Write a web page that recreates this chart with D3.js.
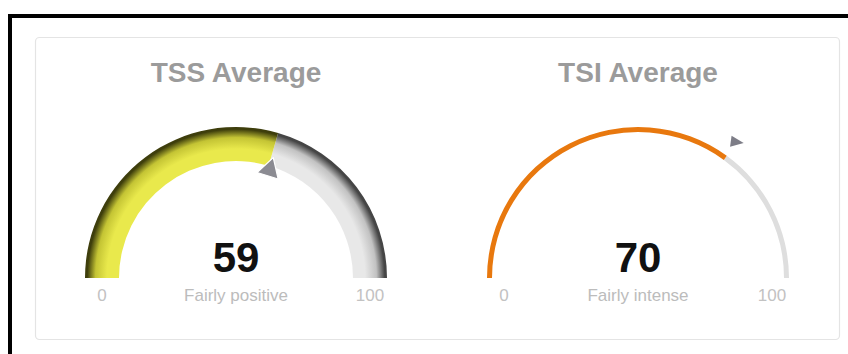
<!DOCTYPE html>
<html>
<head>
<meta charset="utf-8">
<script src="https://cdn.jsdelivr.net/npm/d3@7"></script>
<style>
  html, body { margin: 0; padding: 0; background: #fff; }
  svg { display: block; font-family: "Liberation Sans", Arial, Helvetica, sans-serif; }
</style>
</head>
<body>
<svg id="chart" width="848" height="354"></svg>
<script>
// Gauge content
const titles = ["TSS Average", "TSI Average"];
const values = [59, 70];
const moods = ["Fairly positive", "Fairly intense"];
const scaleMin = 0;
const scaleMax = 100;
const minLabels = ["0", "0"];
const maxLabels = ["100", "100"];

const svg = d3.select("#chart");
const defs = svg.append("defs");

// Outer frame (runs off the right and bottom edges)
svg.append("rect")
  .attr("x", 10).attr("y", 16)
  .attr("width", 900).attr("height", 400)
  .attr("fill", "none").attr("stroke", "#000").attr("stroke-width", 4);

// Card
const card = { x: 35.5, y: 37.5, w: 804, h: 302 };
svg.append("rect")
  .attr("x", card.x).attr("y", card.y)
  .attr("width", card.w).attr("height", card.h)
  .attr("rx", 4)
  .attr("fill", "#fff").attr("stroke", "#e4e4e4").attr("stroke-width", 1.2);

// value -> angle (radians, 0 = straight up)
const angle = d3.scaleLinear().domain([scaleMin, scaleMax]).range([-Math.PI / 2, Math.PI / 2]);

const centers = [236, 638];
const cy = 278;

// Per-gauge look
const looks = [
  { outer: 151, inner: 117, style: "bevel" },
  { outer: 151, inner: 146, style: "flat" }
];

// Radial shading for the bevelled band, in the gauge group's own coordinates
function bevelGradient(id, r, inner, light, dark, rim) {
  const g = defs.append("radialGradient")
    .attr("id", id)
    .attr("gradientUnits", "userSpaceOnUse")
    .attr("cx", 0).attr("cy", 0).attr("r", r);
  const f = inner / r;
  [[0, light], [f, inner === 0 ? light : light], [f + 0.08, light], [0.93, dark], [0.985, rim], [1, rim]]
    .forEach(([o, c]) => g.append("stop").attr("offset", o).attr("stop-color", c));
  return `url(#${id})`;
}

titles.forEach((title, i) => {
  const cx = centers[i];
  const look = looks[i];
  const g = svg.append("g").attr("transform", `translate(${cx},${cy})`);
  const v = values[i];

  const arc = d3.arc().innerRadius(look.inner).outerRadius(look.outer);

  let fillValue, fillTrack;
  if (look.style === "bevel") {
    fillValue = bevelGradient("gv" + i, look.outer, look.inner, "#e9e94c", "#c4c434", "#3e3e0c");
    fillTrack = bevelGradient("gt" + i, look.outer, look.inner, "#e8e8e8", "#c2c2c2", "#454545");
  } else {
    fillValue = "#e8780e";
    fillTrack = "#dedede";
  }

  // remaining track, then the value arc
  g.append("path")
    .attr("d", arc({ startAngle: angle(v), endAngle: angle(scaleMax) }))
    .attr("fill", fillTrack);
  g.append("path")
    .attr("d", arc({ startAngle: angle(scaleMin), endAngle: angle(v) }))
    .attr("fill", fillValue);

  // pointer
  const deg = angle(v) * 180 / Math.PI;
  if (look.style === "bevel") {
    g.append("path")
      .attr("d", `M-11,${-107} L0,${-126} L11,${-107} Z`)
      .attr("transform", `rotate(${deg + 1})`)
      .attr("fill", "#8b8b92")
      .attr("stroke", "#fff").attr("stroke-width", 1.2).attr("stroke-linejoin", "round");
  } else {
    const r = 168;
    const px = r * Math.sin(angle(v));
    const py = -r * Math.cos(angle(v));
    g.append("path")
      .attr("d", "M-6,-5.5 L7,0 L-6,5.5 Z")
      .attr("transform", `translate(${px},${py}) rotate(8)`)
      .attr("fill", "#7d7d87");
  }

  // texts
  g.append("text")
    .attr("x", 0).attr("y", 82 - cy)
    .attr("text-anchor", "middle")
    .attr("font-size", 28).attr("font-weight", "bold")
    .attr("fill", "#9b9b9b")
    .text(title);

  g.append("text")
    .attr("x", 0).attr("y", -6)
    .attr("text-anchor", "middle")
    .attr("font-size", 42).attr("font-weight", "bold")
    .attr("fill", "#111")
    .text(v);

  g.append("text")
    .attr("x", 0).attr("y", 23)
    .attr("text-anchor", "middle")
    .attr("font-size", 17)
    .attr("fill", "#bcbcbc")
    .text(moods[i]);

  g.append("text")
    .attr("x", -134).attr("y", 23)
    .attr("text-anchor", "middle")
    .attr("font-size", 17)
    .attr("fill", "#c2c2c2")
    .text(minLabels[i]);

  g.append("text")
    .attr("x", 134).attr("y", 23)
    .attr("text-anchor", "middle")
    .attr("font-size", 17)
    .attr("fill", "#c2c2c2")
    .text(maxLabels[i]);
});
</script>
</body>
</html>
